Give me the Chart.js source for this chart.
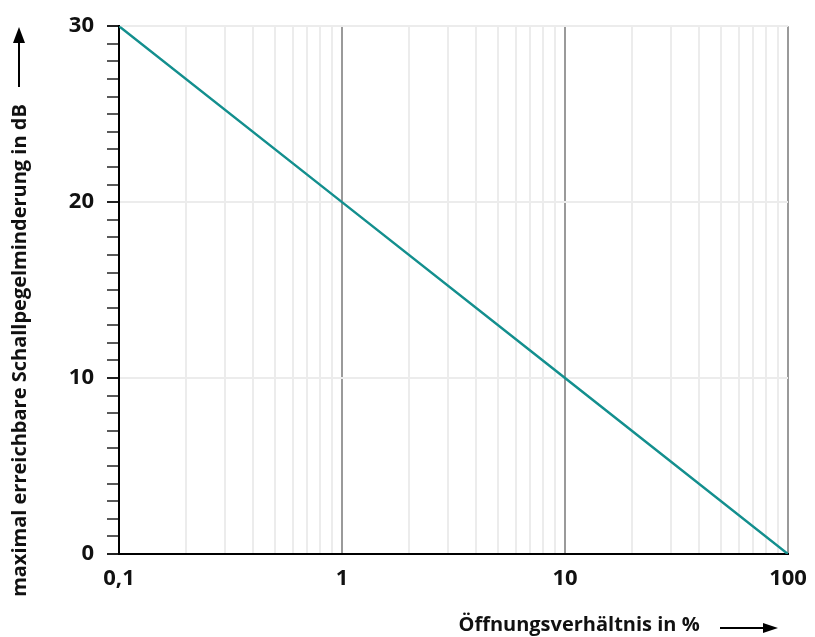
<!DOCTYPE html>
<html lang="de">
<head>
    <meta charset="UTF-8">
    <title>Schallpegelminderung</title>
    <script src="https://cdn.jsdelivr.net/npm/chart.js"></script>
    <style>
        html, body { margin: 0; padding: 0; background: #fff; }
        #wrap { width: 815px; height: 637px; }
    </style>
</head>
<body>
    <div id="wrap"><canvas id="chart" width="815" height="637"></canvas></div>

    <script>
        // data
        const openingRatio = [0.1, 1, 10, 100];      // Öffnungsverhältnis in %
        const reduction = [30, 20, 10, 0];            // dB
        const xMajorTicks = [0.1, 1, 10, 100];
        const xMajorLabels = ["0,1", "1", "10", "100"];
        const yMajorTicks = [0, 10, 20, 30];

        // grid lines at 1..9 of every decade
        const xGrid = [];
        xMajorTicks.slice(0, -1).forEach(function (d) {
            for (let k = 1; k < 10; k++) xGrid.push(+(k * d).toFixed(3));
        });
        xGrid.push(100);

        function isMajorX(v) {
            return xMajorTicks.some(function (m) { return Math.abs(Math.log10(m) - Math.log10(v)) < 1e-6; });
        }

        const fontFam = "'Open Sans', 'DejaVu Sans', sans-serif";

        const arrows = {
            id: "arrows",
            afterDraw(chart) {
                const c = chart.ctx;
                c.save();
                c.strokeStyle = "#000";
                c.fillStyle = "#000";
                c.lineWidth = 2;
                // y-axis arrow
                c.beginPath(); c.moveTo(19, 87); c.lineTo(19, 40); c.stroke();
                c.beginPath(); c.moveTo(19, 27); c.lineTo(13, 43); c.lineTo(25, 43); c.closePath(); c.fill();
                // x-axis arrow
                c.beginPath(); c.moveTo(720, 628); c.lineTo(766, 628); c.stroke();
                c.beginPath(); c.moveTo(778, 628); c.lineTo(763, 623); c.lineTo(763, 633); c.closePath(); c.fill();
                c.restore();
            }
        };

        new Chart(document.getElementById("chart").getContext("2d"), {
            type: "line",
            data: {
                datasets: [{
                    data: openingRatio.map(function (x, i) { return { x: x, y: reduction[i] }; }),
                    borderColor: "#138f8e",
                    borderWidth: 2.5,
                    pointRadius: 0,
                    fill: false,
                    tension: 0
                }]
            },
            options: {
                responsive: false,
                animation: false,
                layout: { padding: { top: 25, right: 27, left: 0, bottom: 0 } },
                plugins: { legend: { display: false }, tooltip: { enabled: false } },
                scales: {
                    x: {
                        type: "logarithmic",
                        min: 0.1,
                        max: 100,
                        afterBuildTicks: function (scale) {
                            scale.ticks = xGrid.map(function (v) { return { value: v }; });
                        },
                        afterFit: function (scale) {
                            scale.height = 83;
                            scale.paddingLeft = 0;
                            scale.paddingRight = 0;
                        },
                        border: { display: true, color: "#000", width: 2 },
                        grid: {
                            drawTicks: false,
                            lineWidth: 2,
                            color: function (ctx) {
                                if (!ctx.tick) return "transparent";
                                const v = ctx.tick.value;
                                if (Math.abs(v - 0.1) < 1e-9) return "transparent";
                                return isMajorX(v) ? "#9a9a9a" : "#ececec";
                            }
                        },
                        ticks: {
                            autoSkip: false,
                            maxRotation: 0,
                            padding: 12,
                            color: "#111",
                            font: { family: fontFam, size: 22, weight: "bold" },
                            callback: function (value) {
                                const i = xMajorTicks.findIndex(function (m) { return Math.abs(Math.log10(m) - Math.log10(value)) < 1e-6; });
                                return i >= 0 ? xMajorLabels[i] : "";
                            }
                        },
                        title: {
                            display: true,
                            align: "end",
                            text: "Öffnungsverhältnis in %" + " ".repeat(17),
                            color: "#111",
                            font: { family: fontFam, size: 20, weight: "bold" },
                            padding: { top: 0, bottom: 0 }
                        }
                    },
                    y: {
                        min: 0,
                        max: 30,
                        afterFit: function (scale) { scale.width = 119; },
                        border: { display: true, color: "#000", width: 2 },
                        grid: {
                            tickLength: 12,
                            lineWidth: 2,
                            tickWidth: function (ctx) { return yMajorTicks.indexOf(ctx.tick.value) >= 0 ? 2 : 1.5; },
                            tickColor: "#222",
                            color: function (ctx) {
                                if (!ctx.tick) return "transparent";
                                const v = ctx.tick.value;
                                return (yMajorTicks.indexOf(v) > 0) ? "#ececec" : "transparent";
                            }
                        },
                        ticks: {
                            stepSize: 1,
                            autoSkip: false,
                            padding: 13,
                            color: "#111",
                            font: { family: fontFam, size: 22, weight: "bold" },
                            callback: function (value) {
                                return yMajorTicks.indexOf(value) >= 0 ? String(value) : "";
                            }
                        },
                        title: {
                            display: true,
                            align: "end",
                            text: "maximal erreichbare Schallpegelminderung in dB" + " ".repeat(15),
                            color: "#111",
                            font: { family: fontFam, size: 20, weight: "bold" },
                            padding: { top: 8, bottom: 0 }
                        }
                    }
                }
            },
            plugins: [arrows]
        });
    </script>
</body>
</html>
